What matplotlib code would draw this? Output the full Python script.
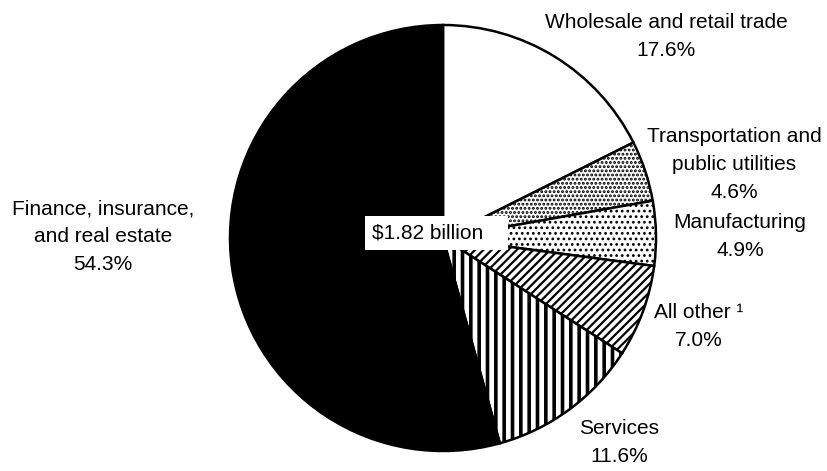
import matplotlib.pyplot as plt

# shares of the $1.82 billion, clockwise from 12 o'clock
sectors = ["Wholesale and retail trade",
           "Transportation and\npublic utilities",
           "Manufacturing",
           "All other \u00b9",
           "Services",
           "Finance, insurance,\nand real estate"]
shares = [17.6, 4.6, 4.9, 7.0, 11.6, 54.3]
total_label = "$1.82 billion"

fills = ["white", "white", "white", "white", "white", "black"]
hatches = [None, "....", "...", "////", "||", None]
hatch_lw = [1.0, 1.4, 1.2, 1.6, 2.6, 1.0]

# label centres in picture pixels (x, y from top)
label_xy = [(666, 36), (734, 165), (740, 237), (699, 326), (619, 443), (103, 237)]

W, H = 828, 471
fig = plt.figure(figsize=(W / 100, H / 100), dpi=100)
ax = fig.add_axes([0, 0, 1, 1])

wedges, _ = ax.pie(shares, startangle=90, counterclock=False,
                   center=(443, H - 238), radius=213,
                   colors=fills,
                   wedgeprops=dict(edgecolor="black", linewidth=1.8))
for w, h, lw in zip(wedges, hatches, hatch_lw):
    if h:
        w.set_hatch(h)
        if hasattr(w, "set_hatch_linewidth"):
            w.set_hatch_linewidth(lw)

ax.set_xlim(0, W)
ax.set_ylim(0, H)
ax.set_aspect("auto")
ax.axis("off")

font = ["Liberation Sans", "DejaVu Sans"]
for name, s, (x, y) in zip(sectors, shares, label_xy):
    ax.text(x, H - y, f"{name}\n{s:.1f}%", ha="center", va="center",
            fontsize=15, family=font, linespacing=1.6)

ax.text(372, H - 233, total_label + "   ", ha="left", va="center",
        fontsize=15, family=font, parse_math=False,
        bbox=dict(boxstyle="square,pad=0.35", fc="white", ec="none"))

fig.savefig("out.png", dpi=100)
